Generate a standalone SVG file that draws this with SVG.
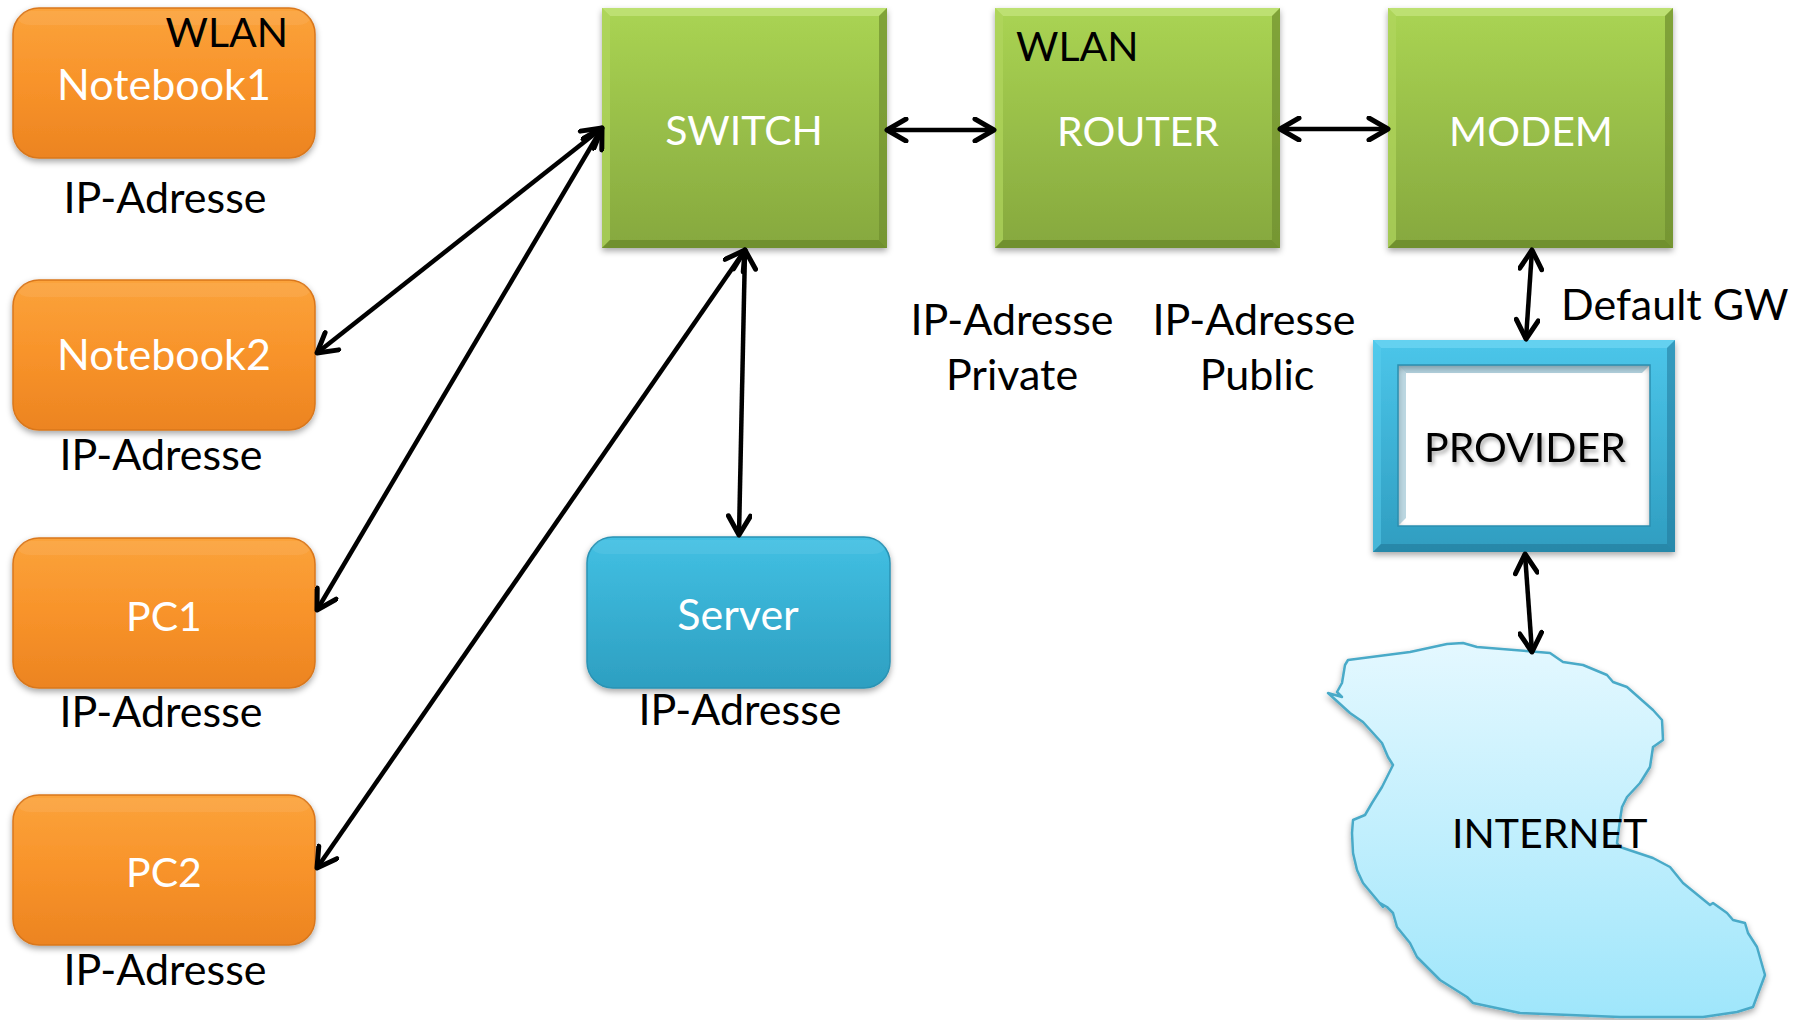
<svg xmlns="http://www.w3.org/2000/svg" xmlns:xlink="http://www.w3.org/1999/xlink" width="1802" height="1020" viewBox="0 0 1802 1020">
  <style>
    text { font-family: "Lato", "Liberation Sans", sans-serif; font-size: 43px; }
    .caps { font-size: 41px; }
    .w { fill: #ffffff; }
    .k { fill: #000000; }
    .c { text-anchor: middle; }
    .conn { fill: none; stroke: #000; stroke-width: 4.5; marker-start: url(#ah); marker-end: url(#ah); }
  </style>
  <defs>
    <marker id="ah" viewBox="0 0 26 26" refX="22" refY="13" markerWidth="26" markerHeight="26" markerUnits="userSpaceOnUse" orient="auto-start-reverse">
      <path d="M3,2 L22,13 L3,24" fill="none" stroke="#000" stroke-width="5" stroke-linecap="round" stroke-linejoin="round"/>
    </marker>
    <filter id="shadow" x="-10%" y="-10%" width="120%" height="130%">
      <feDropShadow dx="0" dy="3" stdDeviation="3" flood-color="#000" flood-opacity="0.35"/>
    </filter>
    <filter id="tshadow" x="-5%" y="-20%" width="110%" height="150%">
      <feDropShadow dx="2" dy="3" stdDeviation="2" flood-color="#000" flood-opacity="0.35"/>
    </filter>
    <linearGradient id="gOrange" x1="0" y1="0" x2="0" y2="1">
      <stop offset="0" stop-color="#fba33b"/>
      <stop offset="0.5" stop-color="#f8932a"/>
      <stop offset="1" stop-color="#ec8421"/>
    </linearGradient>
    <linearGradient id="gGreen" x1="0" y1="0" x2="0" y2="1">
      <stop offset="0" stop-color="#aad453"/>
      <stop offset="1" stop-color="#86a83e"/>
    </linearGradient>
    <linearGradient id="gBlue" x1="0" y1="0" x2="0" y2="1">
      <stop offset="0" stop-color="#42c0e3"/>
      <stop offset="1" stop-color="#2d9fc1"/>
    </linearGradient>
    <linearGradient id="gFrame" x1="0" y1="0" x2="0" y2="1">
      <stop offset="0" stop-color="#4cc6ea"/>
      <stop offset="1" stop-color="#2f9dc0"/>
    </linearGradient>
    <linearGradient id="gNet" x1="0" y1="0" x2="0" y2="1">
      <stop offset="0" stop-color="#e4f8ff"/>
      <stop offset="1" stop-color="#9fe6fb"/>
    </linearGradient>
    <!-- rounded orange client box, 302 x 150 -->
    <g id="orangeBox">
      <rect x="0" y="0" width="302" height="150" rx="26" fill="url(#gOrange)" stroke="#d9771c" stroke-width="1.5"/>
      <rect x="5" y="3" width="292" height="14" rx="12" fill="#ffffff" opacity="0.07"/>
    </g>
    <!-- bevelled green box, 285 x 240 -->
    <g id="greenBox">
      <rect x="0" y="0" width="285" height="240" fill="url(#gGreen)"/>
      <polygon points="0,0 285,0 277,8 8,8" fill="#c2e47a" opacity="0.8"/>
      <polygon points="0,0 8,8 8,232 0,240" fill="#b0d65e" opacity="0.7"/>
      <polygon points="285,0 285,240 277,232 277,8" fill="#6f8f2f" opacity="0.7"/>
      <polygon points="0,240 285,240 277,232 8,232" fill="#6a8a2c" opacity="0.8"/>
    </g>
  </defs>

  <rect width="1802" height="1020" fill="#ffffff"/>

  <!-- clients -->
  <g id="notebook1">
    <use href="#orangeBox" x="13" y="8" filter="url(#shadow)"/>
    <text class="k caps" x="288" y="47" text-anchor="end">WLAN</text>
    <text class="w c" x="164" y="100">Notebook1</text>
    <text class="k c" x="165" y="213">IP-Adresse</text>
  </g>
  <g id="notebook2">
    <use href="#orangeBox" x="13" y="280" filter="url(#shadow)"/>
    <text class="w c" x="164" y="370">Notebook2</text>
    <text class="k c" x="161" y="470">IP-Adresse</text>
  </g>
  <g id="pc1">
    <use href="#orangeBox" x="13" y="538" filter="url(#shadow)"/>
    <text class="w c caps" x="164" y="631">PC1</text>
    <text class="k c" x="161" y="727">IP-Adresse</text>
  </g>
  <g id="pc2">
    <use href="#orangeBox" x="13" y="795" filter="url(#shadow)"/>
    <text class="w c caps" x="164" y="887">PC2</text>
    <text class="k c" x="165" y="985">IP-Adresse</text>
  </g>

  <!-- network devices -->
  <g id="switch">
    <use href="#greenBox" x="602" y="8" filter="url(#shadow)"/>
    <text class="w c caps" x="744" y="145">SWITCH</text>
  </g>
  <g id="router">
    <use href="#greenBox" x="995" y="8" filter="url(#shadow)"/>
    <text class="k caps" x="1016" y="61">WLAN</text>
    <text class="w c caps" x="1138" y="146">ROUTER</text>
    <text class="k c" x="1012" y="335">IP-Adresse</text>
    <text class="k c" x="1012" y="390">Private</text>
    <text class="k c" x="1254" y="335">IP-Adresse</text>
    <text class="k c" x="1257" y="390">Public</text>
  </g>
  <g id="modem">
    <use href="#greenBox" x="1388" y="8" filter="url(#shadow)"/>
    <text class="w c caps" x="1531" y="146">MODEM</text>
    <text class="k" x="1561" y="320">Default GW</text>
  </g>

  <g id="server">
    <rect x="587" y="537" width="303" height="151" rx="26" fill="url(#gBlue)" stroke="#2a93b4" stroke-width="1.5" filter="url(#shadow)"/>
    <rect x="592" y="540" width="293" height="14" rx="12" fill="#ffffff" opacity="0.07"/>
    <text class="w c" x="738" y="630">Server</text>
    <text class="k c" x="740" y="725">IP-Adresse</text>
  </g>

  <g id="provider">
    <g filter="url(#shadow)">
      <path d="M1373,340 H1675 V552 H1373 Z M1398,365 V526 H1650 V365 Z" fill="url(#gFrame)" fill-rule="evenodd"/>
    </g>
    <!-- frame bevels -->
    <polygon points="1373,340 1675,340 1667,348 1381,348" fill="#6fd6f2" opacity="0.7"/>
    <polygon points="1373,340 1381,348 1381,544 1373,552" fill="#5acdee" opacity="0.5"/>
    <polygon points="1675,340 1675,552 1667,544 1667,348" fill="#22799a" opacity="0.55"/>
    <polygon points="1373,552 1675,552 1667,544 1381,544" fill="#22799a" opacity="0.6"/>
    <polygon points="1398,365 1650,365 1642,373 1406,373" fill="#22799a" opacity="0.35"/>
    <polygon points="1398,365 1406,373 1406,518 1398,526" fill="#22799a" opacity="0.3"/>
    <rect x="1398" y="365" width="252" height="161" fill="none" stroke="#2b8fb0" stroke-width="1.5"/>
    <text class="k c caps" x="1525" y="462" filter="url(#tshadow)">PROVIDER</text>
  </g>

  <g id="internet">
    <path filter="url(#shadow)" fill="url(#gNet)" stroke="#4aaac8" stroke-width="2.5" stroke-linejoin="round"
      d="M1348,660 L1410,652 L1447,644 L1463,643 L1477,647 L1550,653 L1563,662 L1583,665 L1607,675 L1613,682 L1627,687 L1653,710 L1662,720 L1663,740 L1653,747 L1650,767 L1640,783 L1627,797 L1622,807 L1620,820 L1617,843 L1620,847 L1653,858 L1670,867 L1683,883 L1710,905 L1713,903 L1727,913 L1733,920 L1745,923 L1748,933 L1757,947 L1765,975 L1753,1007 L1737,1012 L1703,1017 L1620,1017 L1520,1013 L1473,1003 L1467,997 L1440,980 L1417,957 L1410,943 L1397,927 L1393,913 L1387,907 L1380,903 L1383,907 L1363,883 L1357,870 L1353,853 L1352,833 L1353,820 L1365,815 L1372,803 L1382,787 L1393,765 L1388,757 L1382,743 L1373,733 L1363,722 L1350,713 L1328,693 L1342,697 L1337,692 L1342,683 L1345,665 Z"/>
    <text class="k caps" x="1452" y="848">INTERNET</text>
  </g>

  <!-- links -->
  <g id="connectors">
    <line class="conn" x1="887" y1="130" x2="994" y2="130"/>
    <line class="conn" x1="1280" y1="129" x2="1388" y2="129"/>
    <line class="conn" x1="1532" y1="250" x2="1526" y2="339"/>
    <line class="conn" x1="1525" y1="554" x2="1532" y2="652"/>
    <line class="conn" x1="602" y1="128" x2="317" y2="353"/>
    <line class="conn" x1="602" y1="128" x2="317" y2="610"/>
    <line class="conn" x1="745" y1="250" x2="317" y2="868"/>
    <line class="conn" x1="745" y1="250" x2="739" y2="535"/>
  </g>
</svg>
